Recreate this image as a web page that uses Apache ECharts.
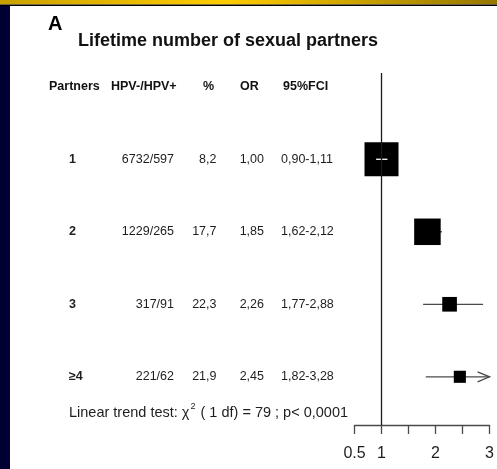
<!DOCTYPE html>
<html>
<head>
<meta charset="utf-8">
<script src="https://cdn.jsdelivr.net/npm/echarts@6/dist/echarts.min.js"></script>
<style>
  html, body { margin: 0; padding: 0; background: #ffffff; }
  #chart { width: 497px; height: 469px; }
</style>
</head>
<body>
<div id="chart"></div>
<script>
// Forest plot: HPV positivity by lifetime number of sexual partners
const partners = ['1', '2', '3', '\u22654'];
const hpvCounts = ['6732/597', '1229/265', '317/91', '221/62'];
const percents = [8.2, 17.7, 22.3, 21.9];
const oddsRatios = [1.00, 1.85, 2.26, 2.45];
const ciLower = [0.90, 1.62, 1.77, 1.82];
const ciUpper = [1.11, 2.12, 2.88, 3.28];
const xTickValues = [0.5, 1, 2, 3];
const headers = ['Partners', 'HPV-/HPV+', '%', 'OR', '95%FCI'];
const trendText = ['Linear trend test: \u03c7', '2', ' ( 1 df) = 79 ; p< 0,0001'];

const X_MIN = 0.5, X_MAX = 3;
const FONT = '"Liberation Sans", Arial, Helvetica, sans-serif';
const BOX_SCALE = 1.82;          // box side in px per 1/SE(log OR)
const LINE_COLOR = '#4a4a4a';
const TEXT_COLOR = '#1e1e1e';

const comma = (v, d) => v.toFixed(d).replace('.', ',');

const plotData = oddsRatios.map((or, i) => [or, ciLower[i], ciUpper[i], i]);

const chart = echarts.init(document.getElementById('chart'), null, { renderer: 'canvas' });

function renderRow(params, api) {
  const or = api.value(0), lo = api.value(1), hi = api.value(2), row = api.value(3);
  const i = params.dataIndex;
  const c = api.coord([or, row]);
  const y = c[1];
  const xLo = api.coord([Math.max(lo, X_MIN), row])[0];
  const xHi = api.coord([Math.min(hi, X_MAX), row])[0];
  const se = (Math.log(hi) - Math.log(lo)) / 3.92;
  const side = BOX_SCALE / se;
  const ciInsideBox = (xHi - xLo) < side;

  const ciLine = {
    type: 'line',
    shape: { x1: xLo, y1: y, x2: xHi, y2: y },
    style: { stroke: ciInsideBox ? '#ffffff' : LINE_COLOR, lineWidth: 1.3 }
  };
  const box = {
    type: 'rect',
    shape: { x: c[0] - side / 2, y: y - side / 2, width: side, height: side },
    style: { fill: '#000000' }
  };
  const children = ciInsideBox ? [box, ciLine] : [ciLine, box];

  if (hi > X_MAX) {
    children.push({
      type: 'polyline',
      shape: { points: [[xHi - 12, y - 5], [xHi, y], [xHi - 12, y + 5]] },
      style: { stroke: LINE_COLOR, lineWidth: 1.3, fill: null }
    });
  }

  const cell = (text, x, align, bold) => ({
    type: 'text',
    x: x, y: y,
    style: {
      text: text, fill: TEXT_COLOR, align: align, verticalAlign: 'middle',
      font: (bold ? 'bold ' : '') + '12.5px ' + FONT
    }
  });
  children.push(
    cell(partners[i], 69, 'left', true),
    cell(hpvCounts[i], 174, 'right', false),
    cell(comma(percents[i], 1), 216.5, 'right', false),
    cell(comma(or, 2), 264, 'right', false),
    cell(comma(lo, 2) + '-' + comma(hi, 2), 281, 'left', false)
  );
  return { type: 'group', children: children };
}

function renderRefLine(params, api) {
  const cs = params.coordSys;
  const x = api.coord([api.value(0), 0])[0];
  return {
    type: 'line',
    shape: { x1: x, y1: cs.y, x2: x, y2: cs.y + cs.height },
    style: { stroke: '#1a1a1a', lineWidth: 1.3 }
  };
}

const headerX = [49, 111, 203, 240, 283];

const option = {
  backgroundColor: '#ffffff',
  animation: false,
  grid: { left: 354.5, right: 5, top: 73, height: 352, containLabel: false },
  xAxis: {
    type: 'value',
    min: X_MIN, max: X_MAX, interval: 0.5,
    splitLine: { show: false },
    axisLine: { show: true, onZero: false, lineStyle: { color: LINE_COLOR, width: 1.3 } },
    axisTick: { show: true, length: 9, lineStyle: { color: LINE_COLOR, width: 1.3 } },
    axisLabel: {
      margin: 21, fontSize: 16, color: TEXT_COLOR, fontFamily: FONT,
      showMinLabel: true, showMaxLabel: true,
      formatter: v => (xTickValues.some(t => Math.abs(t - v) < 1e-9) ? String(v) : '')
    }
  },
  yAxis: {
    type: 'value', inverse: true, min: -1.19, max: 3.665, show: false
  },
  series: [
    {
      type: 'custom',
      clip: false,
      z: 2,
      data: plotData,
      encode: { x: 0, y: 3 },
      renderItem: renderRow
    },
    {
      type: 'custom',
      clip: false,
      z: 3,
      data: [[1]],
      renderItem: renderRefLine
    }
  ],
  graphic: [
    {
      type: 'rect', z: 10,
      shape: { x: 0, y: 0, width: 497, height: 4.5 },
      style: {
        fill: new echarts.graphic.LinearGradient(0, 0, 1, 0, [
          { offset: 0, color: '#c9a000' },
          { offset: 0.45, color: '#ffcc00' },
          { offset: 1, color: '#957600' }
        ])
      }
    },
    { type: 'rect', z: 10, shape: { x: 0, y: 4.5, width: 497, height: 1.5 }, style: { fill: '#000000' } },
    { type: 'rect', z: 10, shape: { x: 0, y: 6, width: 10, height: 463 }, style: { fill: '#000033' } },
    {
      type: 'text', left: 48, top: 14,
      style: { text: 'A', font: 'bold 20px ' + FONT, fill: '#000000' }
    },
    {
      type: 'text', left: 78, top: 32,
      style: { text: 'Lifetime number of sexual partners', font: 'bold 18px ' + FONT, fill: '#111111' }
    },
    ...headers.map((h, k) => ({
      type: 'text', x: headerX[k], y: 87,
      style: { text: h, font: 'bold 12.5px ' + FONT, fill: '#111111', verticalAlign: 'middle' }
    })),
    {
      type: 'text', x: 69, y: 411,
      style: {
        text: '{a|' + trendText[0] + '}{s|' + trendText[1] + '}{a|' + trendText[2] + '}',
        verticalAlign: 'middle',
        rich: {
          a: { fontSize: 14.5, fontFamily: FONT, fill: TEXT_COLOR, lineHeight: 18, verticalAlign: 'bottom' },
          s: { fontSize: 9, fontFamily: FONT, fill: TEXT_COLOR, lineHeight: 18, verticalAlign: 'top', padding: [0, 1, 0, 1] }
        }
      }
    }
  ]
};

chart.setOption(option);
</script>
</body>
</html>
